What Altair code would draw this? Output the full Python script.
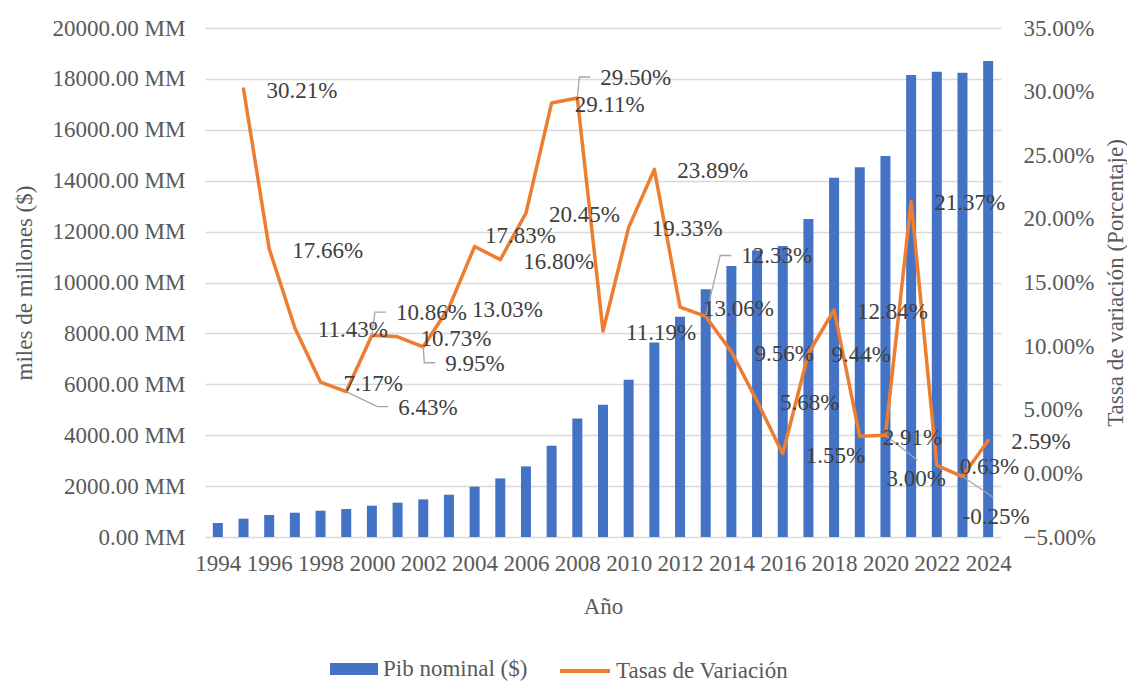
import altair as alt
import pandas as pd

# ---------------- data ----------------
years = list(range(1994, 2025))
pib = [550, 720, 865, 955, 1033, 1100, 1230, 1348, 1478, 1662, 1977, 2303,
       2774, 3588, 4660, 5200, 6180, 7647, 8657, 9730, 10650, 11255, 11434,
       12495, 14118, 14526, 14971, 18153, 18283, 18244, 18703]

rate_years = list(range(1995, 2025))
rates = [30.21, 17.66, 11.43, 7.17, 6.43, 10.86, 10.73, 9.95, 13.03, 17.83,
         16.80, 20.45, 29.11, 29.50, 11.19, 19.33, 23.89, 13.06, 12.33, 9.56,
         5.68, 1.55, 9.44, 12.84, 2.91, 3.00, 21.37, 0.63, -0.25, 2.59]

# label placement tweaks (pixels) relative to default "right of point"
label_shift_x = [0, 0, 0, 0, 29, 1, 0, -1, 0, -12.5, 0, 0, 0, 0, 0, 0, 0, 0,
                 12.5, 0, 0, 0, 0, 0, 0, -22, 0, 0, -23, 0]
label_shift_y = [0, 0, 0, 0, 14, -24, 0, 15, 0, -12, 0, 0, 0, -22, 0, 0, 0,
                 0, -62, 0, 0, 0, 0, 0, 0, 42, 0, 0, 38, 0]
leader_kind = ["", "", "", "", "elbow", "elbow", "", "elbow", "", "", "", "",
               "", "elbow", "", "", "", "", "elbow", "", "", "", "", "", "",
               "diag", "", "", "diag", ""]

# ---------------- layout ----------------
W, H = 796, 509
X_DOM = [1993.5, 2024.5]
Y2_DOM = [-5, 35]
PXY = W / (X_DOM[1] - X_DOM[0])
PXP = H / (Y2_DOM[1] - Y2_DOM[0])
FONT = "Liberation Serif"
FS = 23
GREY = "#595959"

bars_df = pd.DataFrame({"year": years, "pib": pib, "serie": "Pib nominal ($)"})
line_df = pd.DataFrame({"year": rate_years, "pct": rates, "serie": "Tasas de Variación"})

lab_rows = []
lead_rows = []
for i, (yr, v) in enumerate(zip(rate_years, rates)):
    ex, ey = label_shift_x[i], label_shift_y[i]
    lab_rows.append({"year": yr + ex / PXY, "pct": v - ey / PXP,
                     "label": f"{v:.2f}%"})
    kind = leader_kind[i]
    if kind == "elbow":
        pts = [(0, 0), (2 + ex, 1 + ey), (13 + ex, 1 + ey)]
    elif kind == "diag":
        pts = [(0, 0), (23 + ex + 31, 2 + ey - 19)]
    else:
        pts = []
    for k, (ox, oy) in enumerate(pts):
        lead_rows.append({"id": i, "seq": k, "year": yr + ox / PXY,
                          "pct": v - oy / PXP})
lab_df = pd.DataFrame(lab_rows)
lead_df = pd.DataFrame(lead_rows)

x_axis = alt.Axis(values=list(range(1994, 2025, 2)), format="d", grid=False,
                  ticks=False, domain=False, labelPadding=15, title="Año",
                  titlePadding=20, labelFlush=False)
x_enc = alt.X("year:Q",
              scale=alt.Scale(domain=X_DOM, nice=False, zero=False, padding=0),
              axis=x_axis)

y2_axis = alt.Axis(orient="right", values=list(range(-5, 36, 5)),
                   labelExpr="format(datum.value, '.2f') + '%'", grid=False,
                   ticks=False, domain=False, labelPadding=22,
                   title="Tassa de variación (Porcentaje)", titleAngle=270,
                   titleBaseline="top", titlePadding=9)
y2_scale = alt.Scale(domain=Y2_DOM, nice=False, zero=False)

bars = alt.Chart(bars_df).mark_bar(size=10).encode(
    x=x_enc,
    y=alt.Y("pib:Q", scale=alt.Scale(domain=[0, 20000], nice=False),
            axis=alt.Axis(values=list(range(0, 20001, 2000)),
                          labelExpr="format(datum.value, '.2f') + ' MM'",
                          grid=True, gridColor="#D9D9D9", gridWidth=1.3,
                          ticks=False, domain=False, labelPadding=20,
                          title="miles de millones ($)", titlePadding=16)),
    color=alt.Color("serie:N",
                    scale=alt.Scale(domain=["Pib nominal ($)"], range=["#4472C4"]),
                    legend=alt.Legend(title=None, orient="none", legendX=125,
                                      legendY=617, symbolType="M-1,-0.25H1V0.25H-1Z",
                                      symbolSize=2304, symbolStrokeWidth=0,
                                      labelOffset=5, padding=0, labelLimit=0,
                                      labelFont=FONT)),
)

line = alt.Chart(line_df).mark_line(strokeWidth=3.5, strokeCap="round",
                                    strokeJoin="round").encode(
    x=x_enc,
    y=alt.Y("pct:Q", scale=y2_scale, axis=y2_axis),
    stroke=alt.Stroke("serie:N",
                      scale=alt.Scale(domain=["Tasas de Variación"], range=["#ED7D31"]),
                      legend=alt.Legend(title=None, orient="none", legendX=353,
                                        legendY=616, symbolType="stroke",
                                        symbolSize=2500, symbolStrokeWidth=4,
                                        labelOffset=4, padding=0, labelLimit=0,
                                        labelFont=FONT)),
)

leaders = alt.Chart(lead_df).mark_line(color="#A6A6A6", strokeWidth=1.3).encode(
    x=x_enc,
    y=alt.Y("pct:Q", scale=y2_scale, axis=y2_axis),
    detail="id:N",
    order="seq:Q",
)

labels = alt.Chart(lab_df).mark_text(font=FONT, fontSize=FS, color="#404040",
                                     align="left", baseline="middle",
                                     dx=23, dy=2).encode(
    x=x_enc,
    y=alt.Y("pct:Q", scale=y2_scale, axis=y2_axis),
    text="label:N",
)

right = alt.layer(line, leaders, labels)

chart = alt.layer(bars, right).resolve_scale(
    y="independent"
).properties(
    width=W, height=H,
    padding={"left": 197, "top": 20, "right": 126, "bottom": 148},
    autosize=alt.AutoSizeParams(type="none"),
    background="white",
).configure(font=FONT).configure_view(stroke=None).configure_axis(
    labelFont=FONT, labelFontSize=FS, labelColor=GREY,
    titleFont=FONT, titleFontSize=FS, titleColor=GREY, titleFontWeight="normal",
).configure_legend(
    labelFont=FONT, labelFontSize=FS, labelColor=GREY, labelLimit=0,
).configure_text(font=FONT)

chart.save("out.html", embed_options={"renderer": "svg", "actions": False})
